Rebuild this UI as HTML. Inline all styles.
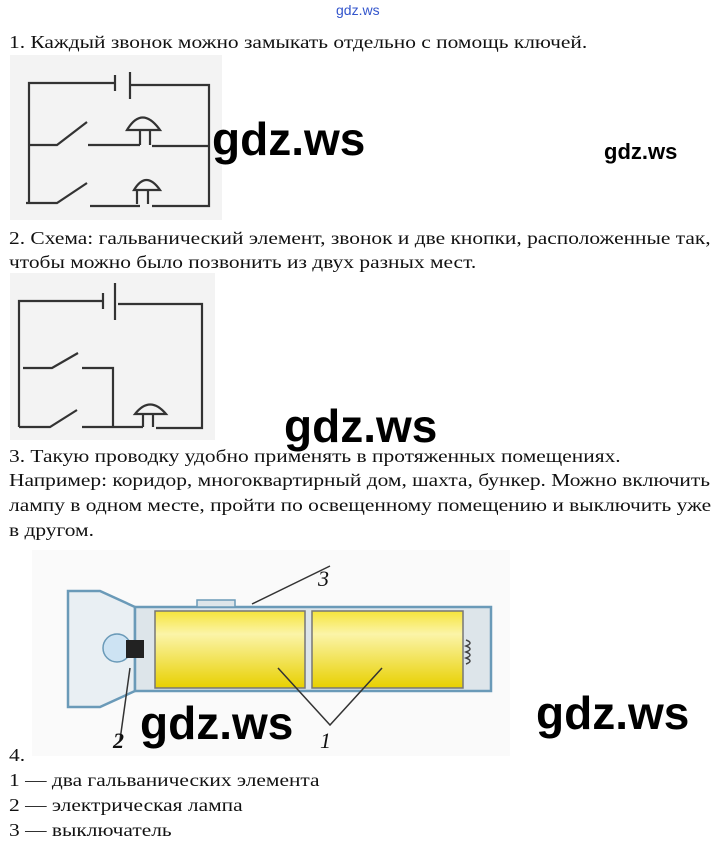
<!DOCTYPE html>
<html><head><meta charset="utf-8"><style>
body{margin:0;width:726px;height:846px;background:#fff;position:relative;overflow:hidden;font-family:"Liberation Serif",serif;font-size:18px;color:#111}
.t{position:absolute;left:9px;white-space:nowrap;line-height:24px;transform:scaleX(1.19);transform-origin:0 0}
.wm{position:absolute;font-family:"Liberation Sans",sans-serif;font-weight:bold;color:#000;white-space:nowrap}
svg{position:absolute;left:0;top:0}
</style></head><body>
<div style="position:absolute;left:336px;top:2px;font-family:'Liberation Sans',sans-serif;font-size:14px;color:#3355cc">gdz.ws</div>
<div class="t" style="top:30px">1. Каждый звонок можно замыкать отдельно с помощь ключей.</div>
<div class="t" style="top:226px">2. Схема: гальванический элемент, звонок и две кнопки, расположенные так,</div>
<div class="t" style="top:250px">чтобы можно было позвонить из двух разных мест.</div>
<div class="t" style="top:444px">3. Такую проводку удобно применять в протяженных помещениях.</div>
<div class="t" style="top:468px">Например: коридор, многоквартирный дом, шахта, бункер. Можно включить</div>
<div class="t" style="top:493px">лампу в одном месте, пройти по освещенному помещению и выключить уже</div>
<div class="t" style="top:518px">в другом.</div>
<div class="t" style="top:743px">4.</div>
<div class="t" style="top:768px">1 — два гальванических элемента</div>
<div class="t" style="top:793px">2 — электрическая лампа</div>
<div class="t" style="top:818px">3 — выключатель</div>
<svg width="726" height="846" fill="none" stroke="#333" stroke-width="2.2">
<rect x="10" y="55" width="212" height="165" fill="#f3f3f3" stroke="none"/>
<path d="M29 202V83H115M115 75V91M130 72V99M130 85H209V206H152M140 206H90M87 183L57 203H26M28 145H57L87 122M88 145H140M152 146H210"/>
<path d="M140 145V130M150 145V130M127 130Q142 105 160 130Z"/>
<path d="M137 204V190M148 204V190M134 190Q146 170 160 190Z"/>
<rect x="10" y="273" width="205" height="167" fill="#f3f3f3" stroke="none"/>
<path d="M19 427V301H103M103 293V309M115 283V320M118 304H202V428H156M143 427H82M77 410L50 427H19M23 368H52L78 353M82 368H113V427"/>
<path d="M143 427V414M153 427V414M135 414Q150 395 166 414Z"/>
<g stroke-width="1.5">
<rect x="32" y="550" width="478" height="206" fill="#fafafa" stroke="none"/>
<path d="M68 591V707H100L135 691V607L100 591Z" fill="#e9eff3" stroke="#6a9ab8" stroke-width="2.5"/>
<rect x="135" y="607" width="356" height="84" fill="#dde5ea" stroke="#6a9ab8" stroke-width="2.5"/>
<rect x="197" y="600" width="38" height="7" fill="#dde5ea" stroke="#6a9ab8"/>
<defs><linearGradient id="y" x1="0" y1="0" x2="0" y2="1"><stop offset="0" stop-color="#f6e43a"/><stop offset=".3" stop-color="#fbf4a8"/><stop offset="1" stop-color="#e8d000"/></linearGradient></defs>
<rect x="155" y="611" width="150" height="77" fill="url(#y)" stroke="#777"/>
<rect x="312" y="611" width="151" height="77" fill="url(#y)" stroke="#777"/>
<path d="M466 640q8 3 0 6q8 3 0 6q8 3 0 6q8 3 0 6" stroke="#444"/>
<circle cx="117" cy="648" r="14" fill="#cde3f3" stroke="#6a9ab8"/>
<rect x="126" y="640" width="18" height="18" fill="#222" stroke="none"/>
<path d="M330 566L252 604M120 740L130 668M278 668L330 725L382 668" stroke="#333"/>
</g>
</svg>
<div style="position:absolute;left:318px;top:566px;font:italic 22px 'Liberation Serif',serif">3</div>
<div style="position:absolute;left:113px;top:728px;font:italic bold 22px 'Liberation Serif',serif">2</div>
<div style="position:absolute;left:320px;top:728px;font:italic 22px 'Liberation Serif',serif">1</div>
<div class="wm" style="left:212px;top:112px;font-size:46px">gdz.ws</div>
<div class="wm" style="left:604px;top:139px;font-size:22px">gdz.ws</div>
<div class="wm" style="left:284px;top:399px;font-size:46px">gdz.ws</div>
<div class="wm" style="left:140px;top:696px;font-size:46px">gdz.ws</div>
<div class="wm" style="left:536px;top:686px;font-size:46px">gdz.ws</div>
</body></html>
